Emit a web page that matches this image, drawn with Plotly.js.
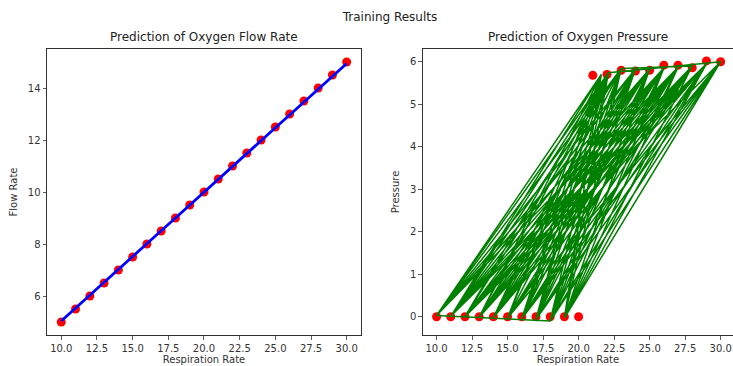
<!DOCTYPE html>
<html>
<head>
<meta charset="utf-8">
<script src="https://cdn.plot.ly/plotly-3.0.1.min.js"></script>
<style>html,body{margin:0;padding:0;background:#fff;}#chart{width:733px;height:366px;}</style>
</head>
<body>
<div id="chart"></div>
<script>
// Left panel: flow rate
const respRate = [10,11,12,13,14,15,16,17,18,19,20,21,22,23,24,25,26,27,28,29,30];
const flowActual = [5,5.5,6,6.5,7,7.5,8,8.5,9,9.5,10,10.5,11,11.5,12,12.5,13,13.5,14,14.5,15];
const flowPred = [5.04,5.54,6.03,6.53,7.02,7.52,8.01,8.51,9.0,9.5,9.99,10.49,10.98,11.48,11.97,12.47,12.96,13.46,13.95,14.45,14.94];

// Right panel: pressure
const pressureActual = [0,0,0,0,0,0,0,0,0,0,0,5.68,5.7,5.8,5.78,5.8,5.92,5.92,5.86,6.02,6.0];
const pressPredX = [10,21.6,11,23,12,22.1,13,25,10,24,
  14,26,15,21.6,16,27,12,28,17,23,
  18,22.1,19,30,22.1,11,29,13,24,16,
  25,18,10,26,14,28,17,30,15,22.1,
  19,27,10,23,12,26,18,24,16,21.6,
  17,29,14,25,19,28,11,27,13,22.1,
  15,30,18,23,17,25,12,29,16,24,
  10,26,19,23,28,15,24,17,21.6,13,
  26,18,27,14,22.1,16,30,12,25,11,
  21.6,19,29,17,22.1,15,27,13,28,16,
  23,14,29,18,25,10,22.1,17,26,11,24];
const pressPredY = [0.03,5.7,0.01,5.84,0,5.74,-0.01,5.83,0.03,5.83,
  -0.02,5.85,-0.03,5.7,-0.04,5.87,0,5.9,-0.06,5.84,
  -0.1,5.74,-0.03,6.0,5.74,0.01,5.95,-0.01,5.83,-0.04,
  5.83,-0.1,0.03,5.85,-0.02,5.9,-0.06,6.0,-0.03,5.74,
  -0.03,5.87,0.03,5.84,0,5.85,-0.1,5.83,-0.04,5.7,
  -0.06,5.95,-0.02,5.83,-0.03,5.9,0.01,5.87,-0.01,5.74,
  -0.03,6.0,-0.1,5.84,-0.06,5.83,0,5.95,-0.04,5.83,
  0.03,5.85,-0.03,5.84,5.9,-0.03,5.83,-0.06,5.7,-0.01,
  5.85,-0.1,5.87,-0.02,5.74,-0.04,6.0,0,5.83,0.01,
  5.7,-0.03,5.95,-0.06,5.74,-0.03,5.87,-0.01,5.9,-0.04,
  5.84,-0.02,5.95,-0.1,5.83,0.03,5.74,-0.06,5.85,0.01,5.83];

const xTicks = [10,12.5,15,17.5,20,22.5,25,27.5,30];
const xTickText = ['10.0','12.5','15.0','17.5','20.0','22.5','25.0','27.5','30.0'];
const flowTicks = [6,8,10,12,14];
const pressTicks = [0,1,2,3,4,5,6];

const traces = [
  {x: respRate, y: flowActual, type:'scatter', mode:'markers', marker:{color:'#ff0000', size:9}, xaxis:'x', yaxis:'y', hoverinfo:'skip'},
  {x: respRate, y: flowPred, type:'scatter', mode:'lines', line:{color:'#0000ff', width:2.8}, xaxis:'x', yaxis:'y', hoverinfo:'skip'},
  {x: respRate, y: pressureActual, type:'scatter', mode:'markers', marker:{color:'#ff0000', size:9}, xaxis:'x2', yaxis:'y2', hoverinfo:'skip'},
  {x: pressPredX, y: pressPredY, type:'scatter', mode:'lines', line:{color:'#008000', width:1.5}, xaxis:'x2', yaxis:'y2', hoverinfo:'skip'}
];

const axisBase = {
  showline:true, mirror:true, linecolor:'#333', linewidth:1,
  ticks:'outside', ticklen:3.5, tickwidth:0.8, tickcolor:'#333',
  showgrid:false, zeroline:false,
  tickfont:{family:'DejaVu Sans', size:10, color:'#333'}
};
const titleFont = {family:'DejaVu Sans', size:10, color:'#333'};

const layout = {
  width:733, height:366,
  margin:{l:47, r:0, t:49, b:31},
  paper_bgcolor:'#fff', plot_bgcolor:'#fff',
  showlegend:false,
  title:{text:'Training Results', x:0.5, xref:'paper', y:0.955, yref:'container', yanchor:'middle',
         font:{family:'DejaVu Sans', size:12, color:'#222'}},
  xaxis: Object.assign({}, axisBase, {domain:[0,0.4577], range:[9,31], tickvals:xTicks, ticktext:xTickText,
    title:{text:'Respiration Rate', font:titleFont, standoff:2}}),
  yaxis: Object.assign({}, axisBase, {domain:[0,1], range:[4.5,15.5], tickvals:flowTicks,
    title:{text:'Flow Rate', font:titleFont, standoff:8}}),
  xaxis2: Object.assign({}, axisBase, {domain:[0.548,1], range:[9.04,30.87], tickvals:xTicks, ticktext:xTickText,
    title:{text:'Respiration Rate', font:titleFont, standoff:2}}),
  yaxis2: Object.assign({}, axisBase, {domain:[0,1], range:[-0.43,6.3], tickvals:pressTicks,
    title:{text:'Pressure', font:titleFont, standoff:8}}),
  annotations:[
    {text:'Prediction of Oxygen Flow Rate', xref:'paper', yref:'paper', x:0.2288, xanchor:'center', y:1, yanchor:'bottom', yshift:3, showarrow:false,
     font:{family:'DejaVu Sans', size:12, color:'#222'}},
    {text:'Prediction of Oxygen Pressure', xref:'paper', yref:'paper', x:0.774, xanchor:'center', y:1, yanchor:'bottom', yshift:3, showarrow:false,
     font:{family:'DejaVu Sans', size:12, color:'#222'}}
  ]
};
layout.yaxis2.anchor = 'x2';
layout.xaxis2.anchor = 'y2';

Plotly.newPlot('chart', traces, layout, {staticPlot:true, displayModeBar:false});
</script>
</body>
</html>
